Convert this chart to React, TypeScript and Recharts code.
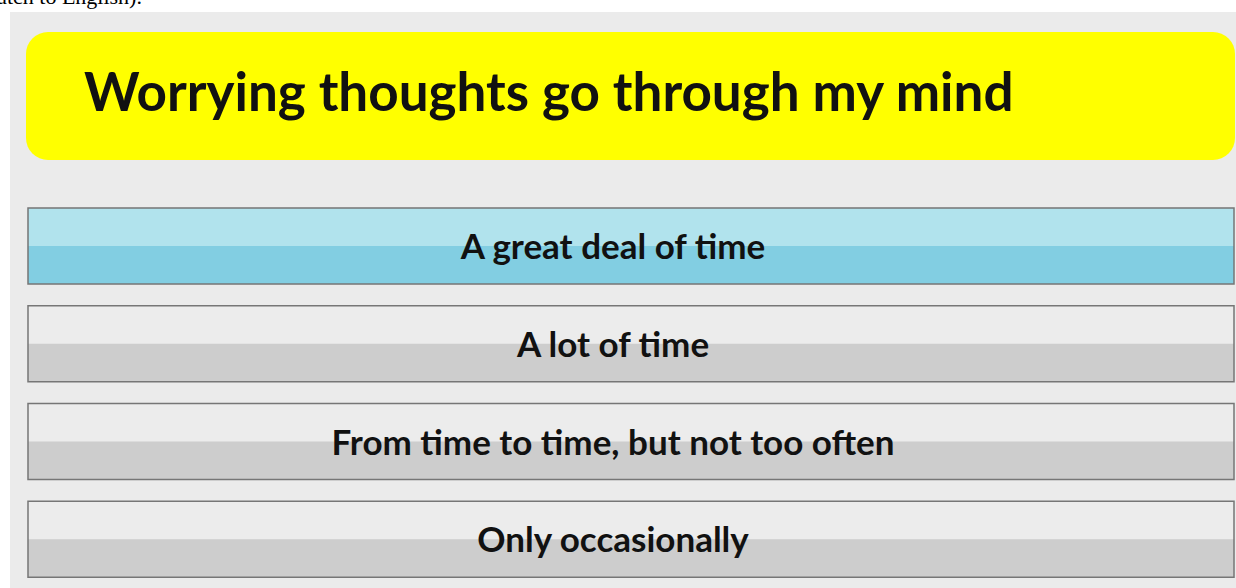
import React from "react";
import { BarChart, Bar, XAxis, YAxis, Cell, LabelList } from "recharts";

const title = "Worrying thoughts go through my mind";
const options = [
  "A great deal of time",
  "A lot of time",
  "From time to time, but not too often",
  "Only occasionally",
];
const fill = [1, 1, 1, 1];
const selected = [true, false, false, false];

const chartData = options.map((name, i) => ({ name, value: fill[i], selected: selected[i] }));

const ButtonShape = (props: any) => {
  const { x, y, width, height, payload } = props;
  const top = payload.selected ? "#b1e3ed" : "#ececec";
  const bottom = payload.selected ? "#82cee2" : "#cdcdcd";
  return (
    <g>
      <rect x={x} y={y} width={width} height={height / 2} fill={top} />
      <rect x={x} y={y + height / 2} width={width} height={height / 2} fill={bottom} />
      <rect x={x} y={y} width={width} height={height} fill="none" stroke="#767676" strokeWidth={1.5} />
    </g>
  );
};

const ButtonLabel = (props: any) => {
  const { x, y, width, height, value } = props;
  return (
    <text
      x={x + width / 2 - 18}
      y={y + height / 2 + 13}
      textAnchor="middle"
      fontFamily="Lato"
      fontWeight={700}
      fontSize={35}
      fill="#111"
    >
      {value}
    </text>
  );
};

export default function App() {
  return (
    <div style={{ position: "relative", width: 1236, height: 588, overflow: "hidden", background: "#fff" }}>
      <style>{`body{margin:0}`}</style>
      <div
        style={{
          position: "absolute",
          left: -20,
          top: -16,
          fontFamily: "Liberation Serif",
          fontSize: 22,
          whiteSpace: "nowrap",
        }}
      >
        Dutch to English).
      </div>
      <div style={{ position: "absolute", left: 10, top: 12, width: 1240, height: 600, background: "#ebebeb" }} />
      <div
        style={{
          position: "absolute",
          left: 26,
          top: 32,
          width: 1209,
          height: 128,
          borderRadius: 22,
          background: "#ffff00",
        }}
      />
      <div
        style={{
          position: "absolute",
          left: 84,
          top: 58,
          fontFamily: "Lato",
          fontWeight: 700,
          fontSize: 53,
          lineHeight: "66px",
          color: "#111",
          whiteSpace: "nowrap",
        }}
      >
        {title}
      </div>
      <div style={{ position: "absolute", left: 0, top: 197 }}>
        <BarChart
          width={1236}
          height={391}
          data={chartData}
          layout="vertical"
          margin={{ top: 0, right: 2, bottom: 0, left: 28 }}
          barSize={76}
        >
          <XAxis type="number" domain={[0, 1]} hide />
          <YAxis type="category" dataKey="name" hide />
          <Bar dataKey="value" shape={<ButtonShape />} isAnimationActive={false}>
            {chartData.map((d, i) => (
              <Cell key={i} fill={d.selected ? "#82cee2" : "#cdcdcd"} />
            ))}
            <LabelList dataKey="name" content={<ButtonLabel />} />
          </Bar>
        </BarChart>
      </div>
    </div>
  );
}
